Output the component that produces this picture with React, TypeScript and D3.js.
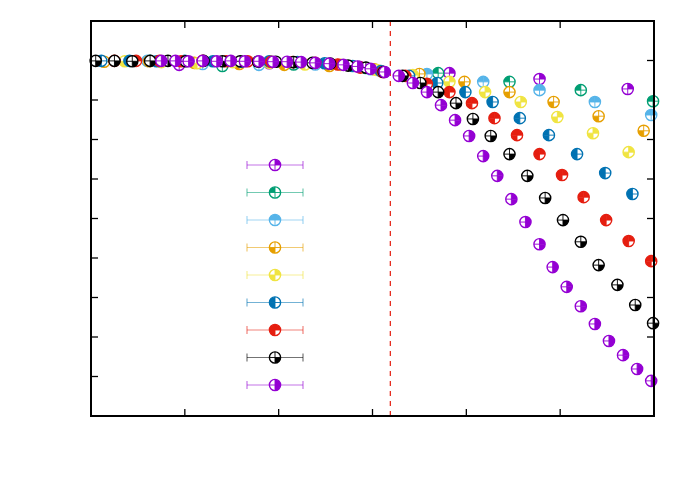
import React from 'react';
import * as d3 from 'd3';

// series values (x in [0, 6], y in [0, 1])
const s1x = [0.94, 1.90, 2.86, 3.82, 4.78, 5.72];
const s1y = [0.889, 0.893, 0.884, 0.868, 0.853, 0.828];

const s2x = [0.63, 1.40, 2.16, 2.93, 3.70, 4.46, 5.22, 5.99];
const s2y = [0.899, 0.886, 0.890, 0.881, 0.868, 0.846, 0.825, 0.797];

const s3x = [0.60, 1.19, 1.79, 2.39, 2.98, 3.58, 4.18, 4.78, 5.37, 5.97];
const s3y = [0.899, 0.891, 0.889, 0.890, 0.878, 0.866, 0.846, 0.825, 0.795, 0.762];

const s4x = [0.14, 0.62, 1.10, 1.58, 2.06, 2.54, 3.02, 3.50, 3.98, 4.46, 4.93, 5.41, 5.89];
const s4y = [0.897, 0.898, 0.894, 0.891, 0.889, 0.886, 0.878, 0.866, 0.846, 0.820, 0.795, 0.759, 0.722];

const s5x = [0.36, 0.75, 1.13, 1.51, 1.90, 2.28, 2.66, 3.05, 3.43, 3.82, 4.20, 4.58, 4.97, 5.35, 5.73];
const s5y = [0.898, 0.896, 0.893, 0.896, 0.894, 0.890, 0.889, 0.876, 0.863, 0.846, 0.820, 0.795, 0.757, 0.716, 0.668];

const s6x = [0.11, 0.41, 0.70, 1.00, 1.30, 1.60, 1.90, 2.20, 2.49, 2.79, 3.09, 3.39, 3.69, 3.99, 4.28, 4.57, 4.88, 5.18, 5.48, 5.77];
const s6y = [0.899, 0.899, 0.898, 0.899, 0.898, 0.897, 0.898, 0.896, 0.893, 0.886, 0.873, 0.861, 0.843, 0.820, 0.795, 0.754, 0.711, 0.663, 0.615, 0.562];

const s7x = [0.25, 0.48, 0.73, 0.96, 1.19, 1.44, 1.67, 1.92, 2.15, 2.39, 2.63, 2.87, 3.11, 3.35, 3.58, 3.82, 4.06, 4.30, 4.54, 4.78, 5.02, 5.25, 5.49, 5.73, 5.97];
const s7y = [0.899, 0.899, 0.899, 0.898, 0.899, 0.898, 0.898, 0.897, 0.896, 0.894, 0.890, 0.882, 0.871, 0.861, 0.841, 0.820, 0.792, 0.754, 0.711, 0.663, 0.610, 0.554, 0.496, 0.443, 0.392];

const s8x = [0.05, 0.25, 0.44, 0.63, 0.82, 1.01, 1.20, 1.40, 1.59, 1.78, 1.97, 2.16, 2.36, 2.55, 2.74, 2.93, 3.12, 3.32, 3.51, 3.70, 3.89, 4.07, 4.26, 4.46, 4.65, 4.84, 5.03, 5.22, 5.41, 5.61, 5.80, 5.99];
const s8y = [0.899, 0.899, 0.898, 0.899, 0.899, 0.898, 0.899, 0.898, 0.898, 0.897, 0.897, 0.896, 0.894, 0.892, 0.887, 0.882, 0.871, 0.861, 0.843, 0.820, 0.792, 0.752, 0.709, 0.663, 0.608, 0.552, 0.496, 0.441, 0.382, 0.332, 0.281, 0.235];

const s9x = [0.75, 0.90, 1.04, 1.19, 1.34, 1.49, 1.64, 1.79, 1.94, 2.09, 2.24, 2.39, 2.54, 2.69, 2.84, 2.98, 3.13, 3.28, 3.43, 3.58, 3.73, 3.88, 4.03, 4.18, 4.33, 4.48, 4.63, 4.78, 4.92, 5.07, 5.22, 5.37, 5.52, 5.67, 5.82, 5.97];
const s9y = [0.899, 0.899, 0.898, 0.899, 0.898, 0.899, 0.898, 0.898, 0.897, 0.897, 0.896, 0.894, 0.892, 0.889, 0.885, 0.879, 0.871, 0.861, 0.843, 0.820, 0.787, 0.749, 0.709, 0.658, 0.608, 0.549, 0.491, 0.435, 0.377, 0.327, 0.278, 0.233, 0.190, 0.154, 0.119, 0.089];

const xTicks = [0, 1, 2, 3, 4, 5, 6];
const yTicks = [0, 0.1, 0.2, 0.3, 0.4, 0.5, 0.6, 0.7, 0.8, 0.9, 1.0];
const transitionX = 3.19;

// gnuplot-like palette, and which quadrants are filled (bits: 1 TR, 2 TL, 4 BL, 8 BR)
const colors = ['#9400d3', '#009e73', '#56b4e9', '#e69f00', '#f0e442', '#0072b2', '#e51e10', '#000000', '#9400d3'];
const patterns = [1, 2, 3, 4, 5, 6, 7, 8, 9];

const seriesX = [s1x, s2x, s3x, s4x, s5x, s6x, s7x, s8x, s9x];
const seriesY = [s1y, s2y, s3y, s4y, s5y, s6y, s7y, s8y, s9y];

const W = 692;
const H = 485;
const margin = { left: 91, right: 38, top: 21, bottom: 69 };
const R = 5.6;

function quadPath(bit: number, r: number) {
  if (bit === 1) return `M0,0 L0,${-r} A${r},${r} 0 0 1 ${r},0 Z`;
  if (bit === 2) return `M0,0 L${-r},0 A${r},${r} 0 0 1 0,${-r} Z`;
  if (bit === 4) return `M0,0 L0,${r} A${r},${r} 0 0 1 ${-r},0 Z`;
  return `M0,0 L${r},0 A${r},${r} 0 0 1 0,${r} Z`;
}

function Marker({ x, y, color, pattern }: { x: number; y: number; color: string; pattern: number }) {
  return (
    <g transform={`translate(${x},${y})`}>
      <circle r={R} fill="#fff" />
      {[1, 2, 4, 8].filter(b => pattern & b).map(b => (
        <path key={b} d={quadPath(b, R)} fill={color} />
      ))}
      <line x1={-R} x2={R} y1={0} y2={0} stroke={color} strokeWidth={0.9} />
      <line x1={0} x2={0} y1={-R} y2={R} stroke={color} strokeWidth={0.9} />
      <circle r={R} fill="none" stroke={color} strokeWidth={1.4} />
    </g>
  );
}

export default function App() {
  const x = d3.scaleLinear().domain([0, 6]).range([margin.left, W - margin.right]);
  const y = d3.scaleLinear().domain([0, 1]).range([H - margin.bottom, margin.top]);
  const [x0, x1] = x.range();
  const [y0, y1] = y.range();
  const tick = 7;

  const legendX = 275;
  const legendY0 = 165;
  const legendStep = 27.5;
  const legendHalf = 28;

  return (
    <div style={{ position: 'fixed', left: 0, top: 0 }}>
      <svg width={W} height={H} style={{ display: 'block', background: '#fff' }}>
        {/* ticks, mirrored on all four sides */}
        <g stroke="#000" strokeWidth={1.3}>
          {xTicks.map(t => (
            <g key={`xt${t}`}>
              <line x1={x(t)} x2={x(t)} y1={y0} y2={y0 - tick} />
              <line x1={x(t)} x2={x(t)} y1={y1} y2={y1 + tick} />
            </g>
          ))}
          {yTicks.map(t => (
            <g key={`yt${t}`}>
              <line x1={x0} x2={x0 + tick} y1={y(t)} y2={y(t)} />
              <line x1={x1} x2={x1 - tick} y1={y(t)} y2={y(t)} />
            </g>
          ))}
        </g>

        {/* transition line */}
        <line
          x1={x(transitionX)} x2={x(transitionX)} y1={y0} y2={y1}
          stroke="#e51e10" strokeWidth={1.2} strokeDasharray="5,5"
        />

        {/* legend samples */}
        {colors.map((c, i) => {
          const ly = legendY0 + i * legendStep;
          return (
            <g key={`lg${i}`}>
              <g stroke={c} strokeOpacity={0.55} strokeWidth={1.2}>
                <line x1={legendX - legendHalf} x2={legendX + legendHalf} y1={ly} y2={ly} />
                <line x1={legendX - legendHalf} x2={legendX - legendHalf} y1={ly - 4} y2={ly + 4} />
                <line x1={legendX + legendHalf} x2={legendX + legendHalf} y1={ly - 4} y2={ly + 4} />
              </g>
              <Marker x={legendX} y={ly} color={c} pattern={patterns[i]} />
            </g>
          );
        })}

        {/* data points */}
        {seriesX.map((xs, si) => (
          <g key={`s${si}`}>
            {xs.map((v, j) => (
              <Marker key={j} x={x(v)} y={y(seriesY[si][j])} color={colors[si]} pattern={patterns[si]} />
            ))}
          </g>
        ))}

        {/* frame */}
        <rect x={x0} y={y1} width={x1 - x0} height={y0 - y1} fill="none" stroke="#000" strokeWidth={2} />
      </svg>
    </div>
  );
}
